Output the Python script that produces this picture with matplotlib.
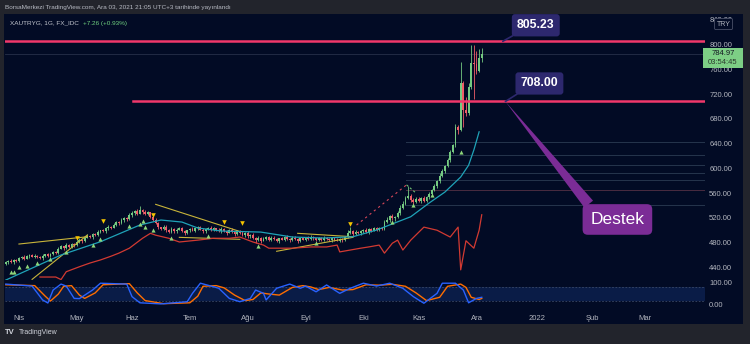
import matplotlib
matplotlib.use('Agg')
import matplotlib.pyplot as plt
import numpy as np
import pandas as pd

plt.rcParams['font.family'] = ['Liberation Sans', 'DejaVu Sans']

W, H = 750, 344

# daily XAUTRYG bars, 25 Mar 2021 - 03 Dec 2021
first_open = 446.0
closes = (
    [449, 451, 448, 452, 450]
    + [455, 457, 454, 458, 460, 457, 459, 457, 455, 459, 461, 458, 462, 465, 463, 470, 474, 471, 476, 473, 478, 476]
    + [481, 485, 483, 488, 491, 489, 494, 492, 497, 500, 498, 503, 506, 504, 509, 513, 511, 516, 520, 518, 524]
    + [528, 531, 527, 533, 530, 526, 529, 522, 517, 511, 505, 502, 506, 500, 497, 502, 498, 501, 503, 499, 496, 500]
    + [502, 499, 503, 505, 501, 498, 502, 504, 500, 503, 501, 498, 502, 499, 496, 500, 497, 494, 498, 495, 492, 496]
    + [490, 493, 487, 484, 488, 483, 486, 489, 485, 488, 486, 483, 487, 485, 489, 486, 484, 488, 486, 483, 487, 485]
    + [488, 486, 489, 487, 484, 487, 485, 488, 486, 484, 487, 485, 483, 486, 484, 489, 496, 499, 494, 497, 495, 498]
    + [500, 497, 502, 499, 503, 501, 504, 502, 513, 517, 523, 519, 521, 528, 536, 543, 552, 556, 549, 546, 551]
    + [547, 552, 548, 553, 558, 565, 571, 579, 588, 596, 604, 613, 626, 637, 667, 662, 738, 694, 690, 731, 770, 768]
    + [758, 778, 784.97]
)
wick_up = (
    [2, 1, 3, 1, 2]
    + [2, 1, 3, 2, 1, 2, 3, 1, 2, 2, 1, 3, 2, 1, 2, 3, 2, 1, 3, 2, 2, 1]
    + [3, 2, 1, 2, 3, 1, 2, 2, 3, 1, 2, 3, 2, 1, 3, 2, 2, 3, 2, 1, 4]
    + [3, 2, 4, 6, 2, 3, 2, 1, 2, 3, 2, 1, 3, 2, 2, 3, 1, 2, 2, 3, 2, 1]
    + [2, 3, 1, 2, 2, 3, 1, 2, 3, 2, 1, 2, 3, 1, 2, 2, 3, 1, 2, 2, 3, 1]
    + [2, 1, 3, 2, 2, 1, 3, 2, 1, 2, 3, 2, 1, 2, 2, 3, 1, 2, 3, 2, 1, 2]
    + [1, 2, 3, 2, 1, 2, 2, 3, 1, 2, 2, 1, 3, 2, 1, 2, 4, 6, 2, 3, 2, 2]
    + [2, 3, 1, 2, 2, 3, 1, 2, 3, 4, 2, 3, 2, 3, 4, 5, 3, 15, 2, 3, 2]
    + [3, 2, 3, 2, 3, 2, 3, 2, 4, 3, 2, 3, 4, 3, 5, 3, 34, 3, 21, 7, 29, 30]
    + [22, 14, 10]
)
wick_dn = (
    [2, 3, 1, 2, 1]
    + [1, 2, 2, 1, 3, 1, 2, 2, 1, 3, 2, 1, 2, 2, 1, 2, 1, 3, 2, 1, 2, 3]
    + [2, 1, 3, 2, 1, 2, 3, 1, 2, 2, 1, 2, 3, 2, 1, 2, 3, 1, 2, 3, 2]
    + [2, 3, 2, 1, 3, 2, 2, 3, 2, 1, 3, 2, 2, 3, 1, 2, 3, 2, 1, 2, 3, 2]
    + [3, 1, 2, 2, 1, 3, 2, 2, 1, 2, 3, 1, 2, 2, 3, 1, 2, 3, 2, 1, 2, 3]
    + [2, 3, 1, 4, 2, 3, 1, 2, 2, 3, 1, 2, 3, 1, 2, 2, 3, 1, 2, 3, 2, 1]
    + [2, 1, 2, 3, 2, 1, 3, 2, 2, 1, 3, 2, 1, 2, 3, 2, 1, 2, 3, 2, 1, 2]
    + [2, 1, 3, 2, 1, 2, 3, 2, 1, 2, 3, 2, 4, 2, 3, 2, 3, 2, 4, 3, 2]
    + [2, 3, 2, 3, 2, 2, 1, 2, 3, 2, 3, 2, 3, 2, 2, 6, 2, 27, 6, 4, 3, 56]
    + [6, 3, 6]
)

# moving average (teal) and the red overlay, sampled at bar numbers
teal_bar = [0, 21, 36, 51, 59, 67, 73, 82, 97, 109, 121, 132, 141, 154, 161, 167, 173, 176, 178, 180]
teal_val = [419.5, 460, 481.4, 508.4, 516.5, 513.2, 503.6, 498.7, 497, 489, 487.4, 489.5, 500.3,
            521.8, 544, 561.7, 586, 605, 629.6, 659]
red_bar = [13, 19, 21, 23, 28, 32, 36, 40, 43, 47, 52, 55, 57, 62, 66, 73, 79, 85, 89, 94, 98, 100,
           109, 116, 122, 126, 127, 131, 135, 138, 142, 144, 147, 149, 151, 154, 159, 164, 169, 172,
           173, 175, 178, 180, 181]
red_val = [424.4, 424.4, 420.3, 433, 441, 447, 452, 458, 463, 471, 487, 495, 492, 487, 481, 484, 487,
           487, 489, 481, 476, 471, 471, 473, 473, 476, 465, 468, 471, 473, 476, 463, 479, 484, 468,
           484, 505, 500, 489, 505, 436, 483, 471, 500, 525]

# signal markers
buy_bar = [2, 3, 5, 8, 12, 17, 23, 33, 36, 47, 51, 52, 53, 56, 63, 77, 96, 118, 147, 155, 162, 173]
buy_val = [433, 433, 440, 442, 447, 454, 465, 476, 486, 507, 510, 515, 505, 500, 488, 491, 475, 479,
           514, 541, 557, 627]
sell_bar = [27, 37, 56, 83, 90, 131]
sell_val = [488, 515, 524, 513, 512, 510]

# stochastic RSI
k_bar = [0, 10, 14, 16, 18, 21, 23, 26, 28, 33, 36, 46, 48, 51, 59, 69, 71, 74, 79, 81, 85, 89, 93,
         95, 98, 99, 103, 108, 112, 114, 118, 122, 127, 131, 136, 141, 146, 151, 155, 159, 164, 166,
         171, 174, 176, 179, 181]
k_val = [95, 86, 23, 9, 68, 95, 86, 30, 29, 68, 99, 95, 38, 10, 5, 15, 53, 99, 83, 76, 30, 15, 30,
         68, 53, 23, 76, 95, 76, 86, 60, 91, 53, 76, 99, 86, 99, 76, 38, 8, 53, 99, 99, 68, 10, 30, 35]
d_bar = [0, 11, 15, 17, 20, 22, 25, 28, 30, 34, 37, 47, 50, 53, 60, 70, 73, 75, 80, 83, 87, 91, 94,
         97, 100, 104, 109, 113, 116, 119, 123, 128, 132, 137, 142, 147, 152, 156, 160, 165, 168,
         173, 175, 177, 180, 181]
d_val = [92, 88, 40, 18, 50, 85, 88, 45, 30, 55, 92, 97, 55, 20, 6, 10, 40, 85, 88, 78, 45, 20, 25,
         55, 50, 45, 80, 88, 82, 70, 80, 68, 70, 92, 90, 94, 85, 55, 20, 35, 85, 95, 80, 35, 25, 30]

# drawings
upper_level = 805.23
support_level = 708.00
last_price = 784.97
fib_levels = [643, 621.5, 605.4, 592.4, 581, 565, 540.7]
trend_lines = [((5, 477.7), (31, 489.5)), ((10, 420.6), (31, 492.3)), ((57, 541.8), (89, 498)),
               ((66, 488.5), (89, 485.3)), ((111, 495), (132, 489.5)), ((103, 466), (132, 488.5))]
month_labels = ['Nis', 'May', 'Haz', 'Tem', 'Ağu', 'Eyl', 'Eki', 'Kas', 'Ara', '2022', 'Şub', 'Mar']

BG = '#020b25'
FRAME = '#22242c'
TXT = '#b2b5be'
UP = '#74c981'
DOWN = '#ef5d68'
PX_PER_TRY = 0.619


def rect(x0, y0, x1, y1):
    return [x0 / W, 1 - y1 / H, (x1 - x0) / W, (y1 - y0) / H]


def draw_candles(ax):
    c = np.array(closes, dtype=float)
    o = np.concatenate([[first_open], c[:-1]])
    hi = np.maximum(o, c) + np.array(wick_up)
    lo = np.minimum(o, c) - np.array(wick_dn)
    x = np.arange(len(c))
    col = np.where(c >= o, UP, DOWN)
    ax.vlines(x, lo, hi, colors=col, lw=0.6, zorder=3)
    ax.bar(x, np.maximum(np.abs(c - o), 0.8), bottom=np.minimum(o, c), width=0.7,
           color=col, lw=0, zorder=4)


def main():
    fig = plt.figure(figsize=(W / 100, H / 100), dpi=100, facecolor=FRAME)
    fig.patches.append(plt.Rectangle((4 / W, 1 - 324 / H), 739 / W, 310 / H,
                                     transform=fig.transFigure, fc=BG, ec='none', zorder=-5))

    ax = fig.add_axes(rect(5, 14, 705, 280))
    osc = fig.add_axes(rect(5, 280, 705, 309), sharex=ax)
    for a in (ax, osc):
        a.set_facecolor('none')
        for s in a.spines.values():
            s.set_visible(False)
        a.yaxis.tick_right()
        a.tick_params(axis='both', length=0, labelsize=5.5, labelcolor=TXT, pad=3)

    ax.set_xlim(-0.3, 265.9)
    ax.set_ylim(419.6, 849.3)
    ax.set_yticks(np.arange(440, 841, 40))
    ax.yaxis.set_major_formatter(matplotlib.ticker.StrMethodFormatter('{x:.2f}'))
    ax.tick_params(axis='x', labelbottom=False)

    # fib levels and horizontal lines
    x_fib = 152.1
    for lvl in fib_levels:
        col = '#4a2b40' if lvl == 565 else '#26354d'
        ax.plot([x_fib, 265.9], [lvl, lvl], color=col, lw=0.7, zorder=1)
    ax.axhline(last_price, color='#263049', lw=0.6, zorder=1)
    ax.axhline(upper_level, color='#f0386b', lw=1.8, zorder=6)
    ax.plot([48.3, 265.9], [support_level, support_level], color='#f0386b', lw=1.8, zorder=6)

    for (x0, y0), (x1, y1) in trend_lines:
        ax.plot([x0, x1], [y0, y1], color='#c8b43a', lw=0.8, zorder=5)
    ax.plot([133.4, 152.4], [508.4, 573.3], color='#d9485a', lw=0.8, ls=(0, (2, 3)), zorder=5)
    ax.plot([152.4, 156], [573.3, 560], color='#6fbf73', lw=0.8, ls=(0, (2, 2)), zorder=5)

    ax.plot(teal_bar, teal_val, color='#1fa3b8', lw=0.9, zorder=5)
    ax.plot(red_bar, red_val, color='#d23a32', lw=0.9, zorder=5)
    draw_candles(ax)
    ax.scatter(buy_bar, buy_val, marker='^', s=9, color='#8fd67a', lw=0, zorder=6)
    ax.scatter(sell_bar, sell_val, marker='v', s=11, color='#f5c400', lw=0, zorder=6)

    # price callouts
    box = dict(boxstyle='round,pad=0.42,rounding_size=0.25', fc='#2d286e', ec='none')
    ax.annotate('805.23', xy=(189, upper_level), xytext=(33, 16), textcoords='offset pixels',
                ha='center', va='center', color='white', fontsize=8.8, fontweight='bold', bbox=box,
                annotation_clip=False, zorder=8,
                arrowprops=dict(arrowstyle='-', color='#2d286e', lw=1.2, shrinkA=0, shrinkB=0,
                                relpos=(0.1, 0.0)))
    ax.annotate('708.00', xy=(190, support_level), xytext=(34, 18), textcoords='offset pixels',
                ha='center', va='center', color='white', fontsize=8.8, fontweight='bold', bbox=box,
                annotation_clip=False, zorder=8,
                arrowprops=dict(arrowstyle='-', color='#2d286e', lw=1.2, shrinkA=0, shrinkB=0,
                                relpos=(0.1, 0.0)))
    ax.annotate('Destek', xy=(190, support_level), xytext=(112, -118), textcoords='offset pixels',
                ha='center', va='center', color='white', fontsize=12.5,
                bbox=dict(boxstyle='round,pad=0.45,rounding_size=0.3', fc='#7b2c96', ec='none'),
                annotation_clip=False, zorder=8,
                arrowprops=dict(arrowstyle='wedge,tail_width=0.4', mutation_scale=20, fc='#7b2c96',
                                ec='none', shrinkA=0, shrinkB=0, relpos=(0.12, 0.85)))

    # last price tag with countdown
    tag_tr = ax.get_yaxis_transform()
    ax.add_patch(plt.Rectangle((1.0 - 2 / 700, last_price - 14.5 / PX_PER_TRY), 40 / 700,
                               20 / PX_PER_TRY, transform=tag_tr, fc='#7dcf85', ec='none',
                               clip_on=False, zorder=9))
    ax.text(1.0 + 18 / 700, last_price, '784.97', transform=tag_tr, ha='center', va='center',
            fontsize=5.5, color='#131722', zorder=10, clip_on=False)
    ax.text(1.0 + 18 / 700, last_price - 8.5 / PX_PER_TRY, '03:54:45', transform=tag_tr,
            ha='center', va='center', fontsize=5.5, color='#2b3a2e', zorder=10, clip_on=False)

    # stochastic RSI pane
    osc.set_ylim(-18.2, 113.6)
    osc.set_yticks([0, 100])
    osc.yaxis.set_major_formatter(matplotlib.ticker.StrMethodFormatter('{x:.2f}'))
    osc.axhspan(20, 80, color='#0a1c47', lw=0, zorder=1)
    for lvl in (20, 80):
        osc.axhline(lvl, color='#3c4a68', lw=0.6, ls=(0, (2, 2)), zorder=2)
    osc.plot(k_bar, k_val, color='#2962ff', lw=1.0, zorder=4)
    osc.plot(d_bar, d_val, color='#ff6d00', lw=1.0, zorder=3)

    cal = pd.bdate_range('2021-03-25', '2022-03-31')
    months = cal.to_period('M')
    month_pos = np.flatnonzero(np.r_[False, months[1:] != months[:-1]])
    osc.set_xticks(month_pos)
    osc.set_xticklabels(month_labels)
    osc.tick_params(axis='x', pad=4)

    fig.text(5 / W, 1 - 8 / H, 'BorsaMerkezi TradingView.com, Ara 03, 2021 21:05 UTC+3 tarihinde yayınlandı',
             color='#b7bac3', fontsize=4.6, va='center')
    name = fig.text(10 / W, 1 - 23 / H, 'XAUTRYG, 1G, FX_IDC', color='#c3c6ce', fontsize=4.6,
                    va='center')
    name_end = name.get_window_extent(fig.canvas.get_renderer()).x1
    fig.text((name_end + 4) / W, 1 - 23 / H, '+7.26 (+0.93%)', color='#6fcf7f', fontsize=4.6,
             va='center')
    fig.text(723.5 / W, 1 - 24 / H, 'TRY', color=TXT, fontsize=5, ha='center', va='center', zorder=5,
             bbox=dict(boxstyle='round,pad=0.3,rounding_size=0.2', fc=BG, ec='#4a5068', lw=0.6))
    fig.text(5 / W, 1 - 333 / H, 'TV', color='#d1d4dc', fontsize=5.5, fontweight='bold', va='center')
    fig.text(19 / W, 1 - 333 / H, 'TradingView', color='#d1d4dc', fontsize=5, va='center')

    fig.savefig('out.png', dpi=100, facecolor=fig.get_facecolor())


if __name__ == '__main__':
    main()
